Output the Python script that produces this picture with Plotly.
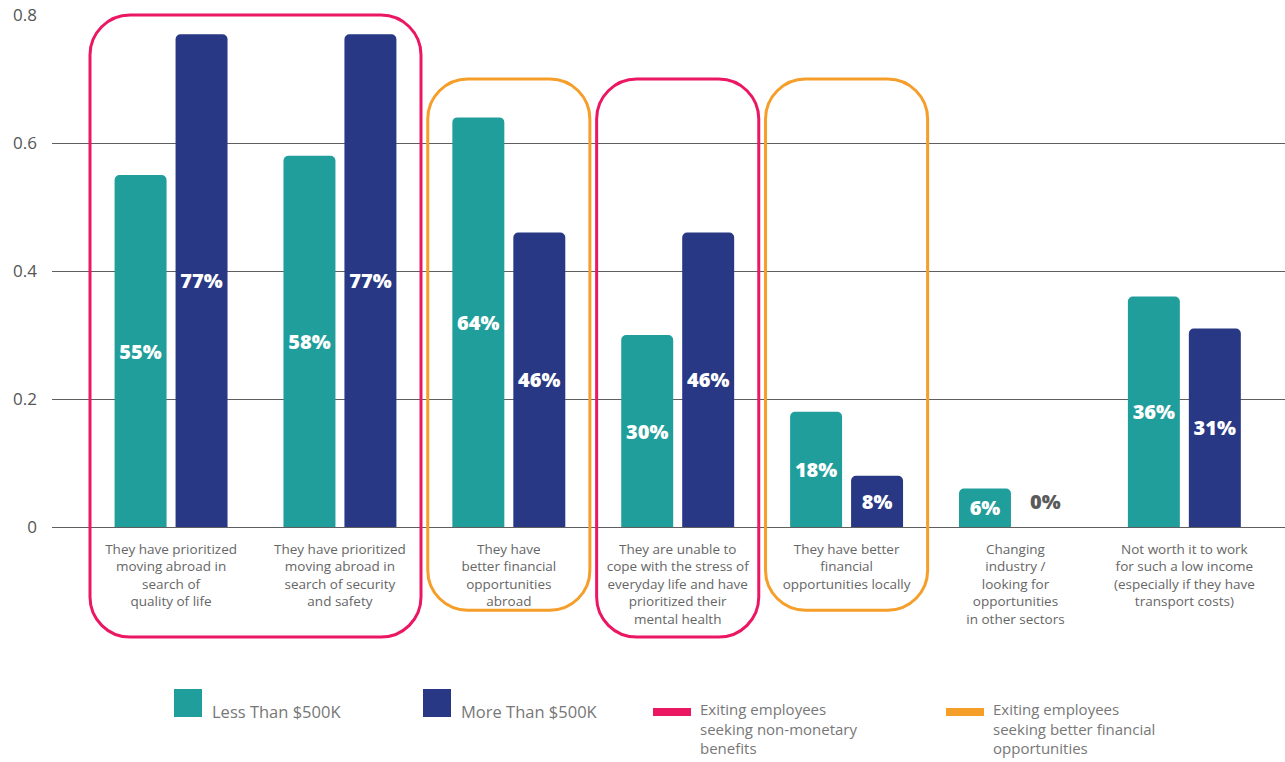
import plotly.graph_objects as go

# Reasons given by exiting employees, split by company revenue band
categories = [
    "They have prioritized<br>moving abroad in<br>search of<br>quality of life",
    "They have prioritized<br>moving abroad in<br>search of security<br>and safety",
    "They have<br>better financial<br>opportunities<br>abroad",
    "They are unable to<br>cope with the stress of<br>everyday life and have<br>prioritized their<br>mental health",
    "They have better<br>financial<br>opportunities locally",
    "Changing<br>industry /<br>looking for<br>opportunities<br>in other sectors",
    "Not worth it to work<br>for such a low income<br>(especially if they have<br>transport costs)",
]
less_than_500k = [0.55, 0.58, 0.64, 0.30, 0.18, 0.06, 0.36]
more_than_500k = [0.77, 0.77, 0.46, 0.46, 0.08, 0.00, 0.31]
series_names = ["Less Than $500K", "More Than $500K"]

# Groupings of reasons (first and last category index) and their kind
groups = [
    (0, 1, "nonmonetary"),
    (2, 2, "financial"),
    (3, 3, "nonmonetary"),
    (4, 4, "financial"),
]
group_labels = {
    "nonmonetary": "Exiting employees<br>seeking non-monetary<br>benefits",
    "financial": "Exiting employees<br>seeking better financial<br>opportunities",
}

TEAL = "#209E9B"
NAVY = "#283884"
PINK = "#EC1763"
ORANGE = "#F59E2A"
FONT = "Open Sans"

W, H = 1285, 762
M_L, M_R, M_T, M_B = 52, 0, 15, 235
PW, PH = W - M_L - M_R, H - M_T - M_B
X_RANGE = [-0.705, 6.596]
Y_RANGE = [0, 0.8]


def xp(idx):
    """Category index -> paper x."""
    return (idx - X_RANGE[0]) / (X_RANGE[1] - X_RANGE[0])


def yp(val):
    """Data y -> paper y."""
    return (val - Y_RANGE[0]) / (Y_RANGE[1] - Y_RANGE[0])


def px_x(px):
    return (px - M_L) / PW


def px_y(py):
    return (H - M_B - py) / PH


def rounded_rect(x0, y0, x1, y1, r_px):
    """Rounded rectangle path in paper coordinates, corner radius in pixels."""
    rx, ry = r_px / PW, r_px / PH
    k = 0.5523
    return (
        f"M{x0 + rx},{y1} L{x1 - rx},{y1} "
        f"C{x1 - rx + k * rx},{y1} {x1},{y1 - ry + k * ry} {x1},{y1 - ry} "
        f"L{x1},{y0 + ry} "
        f"C{x1},{y0 + ry - k * ry} {x1 - rx + k * rx},{y0} {x1 - rx},{y0} "
        f"L{x0 + rx},{y0} "
        f"C{x0 + rx - k * rx},{y0} {x0},{y0 + ry - k * ry} {x0},{y0 + ry} "
        f"L{x0},{y1 - ry} "
        f"C{x0},{y1 - ry + k * ry} {x0 + rx - k * rx},{y1} {x0 + rx},{y1} Z"
    )


fig = go.Figure()
for name, vals, color in [
    (series_names[0], less_than_500k, TEAL),
    (series_names[1], more_than_500k, NAVY),
]:
    fig.add_trace(
        go.Bar(
            name=name,
            x=categories,
            y=vals,
            marker=dict(color=color, line=dict(width=0), cornerradius=5),
            texttemplate="%{y:.0%}",
            textposition=["inside" if v > 0 else "none" for v in vals],
            insidetextanchor="middle",
            textangle=0,
            insidetextfont=dict(family=FONT, size=20, color="white", weight=800),
            hoverinfo="skip",
        )
    )

annotations = []
# zero-height bars carry their label just above the baseline
for i, v in enumerate(more_than_500k):
    if v == 0:
        annotations.append(dict(
            x=categories[i], y=v, xref="x", yref="y",
            text=f"{v:.0%}", showarrow=False,
            xshift=30, yshift=26,
            font=dict(family=FONT, size=20, color="#5a5a5a", weight=800),
        ))

shapes = []
box_style = {
    "nonmonetary": dict(color=PINK, top=0.70, bottom=-0.172),
    "financial": dict(color=ORANGE, top=0.70, bottom=-0.130),
}
for k, (i0, i1, kind) in enumerate(groups):
    st = box_style[kind]
    top = 0.8 if k == 0 else st["top"]
    shapes.append(dict(
        type="path", xref="paper", yref="paper",
        path=rounded_rect(xp(i0 - 0.48), yp(st["bottom"]), xp(i1 + 0.48), yp(top), 40),
        line=dict(color=st["color"], width=3), fillcolor="rgba(0,0,0,0)",
        layer="above",
    ))

# legend
LEG_TXT = "#777777"
for (sx, color, label) in [(174, TEAL, series_names[0]), (423, NAVY, series_names[1])]:
    shapes.append(dict(
        type="rect", xref="paper", yref="paper",
        x0=px_x(sx), x1=px_x(sx + 28), y0=px_y(717), y1=px_y(689),
        fillcolor=color, line=dict(width=0),
    ))
    annotations.append(dict(
        xref="paper", yref="paper", x=px_x(sx + 36), y=px_y(711),
        xanchor="left", yanchor="middle", text=label, showarrow=False,
        font=dict(family=FONT, size=16.5, color=LEG_TXT),
    ))
for (sx, color, kind) in [(653, PINK, "nonmonetary"), (946, ORANGE, "financial")]:
    shapes.append(dict(
        type="rect", xref="paper", yref="paper",
        x0=px_x(sx), x1=px_x(sx + 38), y0=px_y(716), y1=px_y(708),
        fillcolor=color, line=dict(width=0),
    ))
    annotations.append(dict(
        xref="paper", yref="paper", x=px_x(sx + 45), y=px_y(697),
        xanchor="left", yanchor="top", align="left",
        text=group_labels[kind], showarrow=False,
        font=dict(family=FONT, size=15, color=LEG_TXT),
    ))

fig.update_layout(
    width=W, height=H,
    margin=dict(l=M_L, r=M_R, t=M_T, b=M_B, pad=0),
    paper_bgcolor="white", plot_bgcolor="white",
    barmode="group", bargap=0.278, bargroupgap=0.1475,
    showlegend=False,
    font=dict(family=FONT, color="#555555"),
    shapes=shapes, annotations=annotations,
)
fig.update_xaxes(
    type="category", range=X_RANGE, showgrid=False, zeroline=False,
    showline=False, ticks="", ticklabelstandoff=12,
    tickfont=dict(family=FONT, size=13.5, color="#666666"),
)
fig.update_yaxes(
    range=Y_RANGE, tickvals=[0, 0.2, 0.4, 0.6, 0.8],
    ticktext=["0", "0.2", "0.4", "0.6", "0.8"],
    showgrid=True, gridcolor="#5f5f5f", gridwidth=1,
    zeroline=True, zerolinecolor="#5f5f5f", zerolinewidth=1,
    showline=False, ticks="", ticklabelstandoff=14,
    tickfont=dict(family=FONT, size=17, color="#555555"),
)

fig.write_html("out.html")
